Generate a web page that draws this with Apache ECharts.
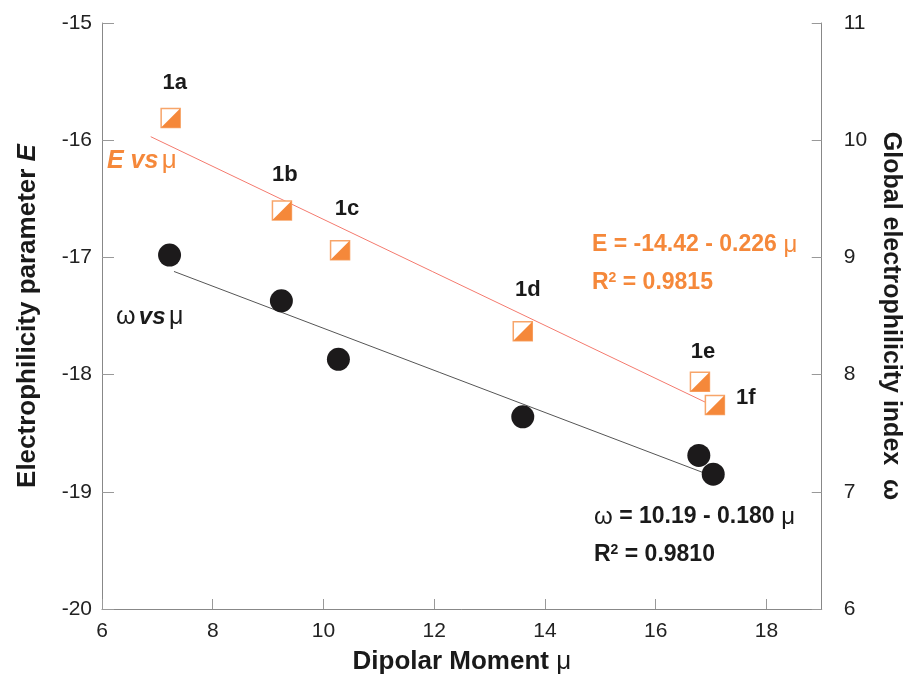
<!DOCTYPE html>
<html>
<head>
<meta charset="utf-8">
<script src="https://cdn.jsdelivr.net/npm/echarts@6/dist/echarts.min.js"></script>
<style>
  html, body { margin: 0; padding: 0; background: #fff; }
  #chart { width: 911px; height: 680px; }
</style>
</head>
<body>
<div id="chart"></div>
<script>
// compound labels
const compounds = ['1a', '1b', '1c', '1d', '1e', '1f']
// dipolar moment (x)
const mu = [7.24, 9.25, 10.3, 13.6, 16.8, 17.07]
const muOmega = [7.22, 9.24, 10.27, 13.6, 16.78, 17.04]
// electrophilicity parameter E (left axis)
const eValues = [-15.81, -16.60, -16.94, -17.63, -18.06, -18.26]
// global electrophilicity index omega (right axis)
const omegaValues = [9.02, 8.63, 8.13, 7.64, 7.31, 7.15]
// fitted line endpoints
const eFit = [[6.88, -15.97], [17.05, -18.27]]
const omegaFit = [[7.3, 8.88], [16.88, 7.16]]

// label offsets for each compound tag (x, y in px)
const labelOffsets = [[4, -2], [3, -2], [7, -8], [5, -8], [3, 4], [31, 26]]

const orange = '#f5883a'
const font = 'Liberation Sans, Arial, sans-serif'

const chart = echarts.init(document.getElementById('chart'))

const eData = mu.map((m, i) => ({
  value: [m, eValues[i]],
  label: {
    show: true,
    formatter: compounds[i],
    position: 'top',
    distance: 12,
    offset: labelOffsets[i],
    color: '#1a1a1a',
    fontWeight: 'bold',
    fontSize: 22,
    fontFamily: font
  }
}))

const option = {
  animation: false,
  textStyle: {fontFamily: font},
  grid: {left: 102, right: 81, top: 23, bottom: 68},
  xAxis: {
    type: 'value',
    min: 6,
    max: 19,
    interval: 2,
    name: 'Dipolar Moment {m|μ}',
    nameLocation: 'middle',
    nameGap: 40,
    nameTextStyle: {
      color: '#1a1a1a', fontSize: 26, fontWeight: 'bold', fontFamily: font,
      rich: {m: {fontSize: 26, fontWeight: 'normal', color: '#1a1a1a', fontFamily: font}}
    },
    axisLine: {show: true, lineStyle: {color: '#888', width: 1}},
    axisTick: {show: true, inside: true, length: 10, lineStyle: {color: '#999'}},
    axisLabel: {color: '#222', fontSize: 21, margin: 12, showMaxLabel: false},
    splitLine: {show: false}
  },
  yAxis: [
    {
      type: 'value',
      min: -20,
      max: -15,
      interval: 1,
      position: 'left',
      name: 'Electrophilicity parameter {i|E}',
      nameLocation: 'middle',
      nameGap: 61,
      nameTextStyle: {
        color: '#1a1a1a', fontSize: 26, fontWeight: 'bold', fontFamily: font,
        rich: {i: {fontSize: 26, fontWeight: 'bold', fontStyle: 'italic', color: '#1a1a1a', fontFamily: font}}
      },
      axisLine: {show: true, lineStyle: {color: '#888', width: 1}},
      axisTick: {show: true, inside: true, length: 12, lineStyle: {color: '#999'}},
      axisLabel: {color: '#222', fontSize: 21, margin: 10},
      splitLine: {show: false}
    },
    {
      type: 'value',
      min: 6,
      max: 11,
      interval: 1,
      position: 'right',
      name: 'Global electrophilicity index  ω',
      nameLocation: 'middle',
      nameRotate: -90,
      nameGap: 56,
      nameTextStyle: {color: '#1a1a1a', fontSize: 25, fontWeight: 'bold', fontFamily: font},
      axisLine: {show: true, lineStyle: {color: '#888', width: 1}},
      axisTick: {show: true, inside: true, length: 10, lineStyle: {color: '#999'}},
      axisLabel: {color: '#222', fontSize: 21, margin: 22},
      splitLine: {show: false}
    }
  ],
  series: [
    {
      type: 'line',
      yAxisIndex: 0,
      data: eFit,
      symbol: 'none',
      lineStyle: {color: '#f47a6e', width: 1},
      z: 1
    },
    {
      type: 'line',
      yAxisIndex: 1,
      data: omegaFit,
      symbol: 'none',
      lineStyle: {color: '#555', width: 1},
      z: 1
    },
    {
      // square outline of E markers
      type: 'scatter',
      yAxisIndex: 0,
      data: eData,
      symbol: 'rect',
      symbolSize: 19,
      itemStyle: {color: '#fff', borderColor: '#f7a56a', borderWidth: 1.5, opacity: 1},
      z: 3
    },
    {
      // filled lower-right half of E markers
      type: 'scatter',
      yAxisIndex: 0,
      data: mu.map((m, i) => [m, eValues[i]]),
      symbol: 'path://M1,0 L1,1 L0,1 Z',
      symbolSize: 19,
      itemStyle: {color: orange, opacity: 1},
      z: 4
    },
    {
      type: 'scatter',
      yAxisIndex: 1,
      data: muOmega.map((m, i) => [m, omegaValues[i]]),
      symbol: 'circle',
      symbolSize: 23,
      itemStyle: {color: '#1c1a1b', opacity: 1},
      z: 3
    }
  ],
  graphic: [
    {
      type: 'text', left: 107, top: 148,
      style: {
        text: '{a|E vs} {m|μ}',
        rich: {
          a: {fill: orange, fontSize: 25, fontWeight: 'bold', fontStyle: 'italic', fontFamily: font},
          m: {fill: orange, fontSize: 26, fontFamily: font}
        }
      }
    },
    {
      type: 'text', left: 116, top: 305,
      style: {
        text: '{m|ω} {a|vs} {m|μ}',
        rich: {
          a: {fill: '#1a1a1a', fontSize: 24, fontWeight: 'bold', fontStyle: 'italic', fontFamily: font},
          m: {fill: '#1a1a1a', fontSize: 25, fontFamily: font}
        }
      }
    },
    {
      type: 'text', left: 592, top: 233,
      style: {
        text: '{a|E = -14.42 - 0.226}{m| μ}',
        rich: {
          a: {fill: orange, fontSize: 23, fontWeight: 'bold', fontFamily: font},
          m: {fill: orange, fontSize: 24, fontFamily: font}
        }
      }
    },
    {
      type: 'text', left: 592, top: 271,
      style: {
        text: '{a|R}{s|2}{a| = 0.9815}',
        rich: {
          a: {fill: orange, fontSize: 23, fontWeight: 'bold', fontFamily: font},
          s: {fill: orange, fontSize: 14, fontWeight: 'bold', fontFamily: font, verticalAlign: 'top', padding: [0, 0, 10, 0]}
        }
      }
    },
    {
      type: 'text', left: 594, top: 505,
      style: {
        text: '{m|ω}{a| = 10.19 - 0.180}{m| μ}',
        rich: {
          a: {fill: '#1a1a1a', fontSize: 23, fontWeight: 'bold', fontFamily: font},
          m: {fill: '#1a1a1a', fontSize: 24, fontFamily: font}
        }
      }
    },
    {
      type: 'text', left: 594, top: 543,
      style: {
        text: '{a|R}{s|2}{a| = 0.9810}',
        rich: {
          a: {fill: '#1a1a1a', fontSize: 23, fontWeight: 'bold', fontFamily: font},
          s: {fill: '#1a1a1a', fontSize: 14, fontWeight: 'bold', fontFamily: font, verticalAlign: 'top', padding: [0, 0, 10, 0]}
        }
      }
    }
  ]
}

chart.setOption(option)
</script>
</body>
</html>
